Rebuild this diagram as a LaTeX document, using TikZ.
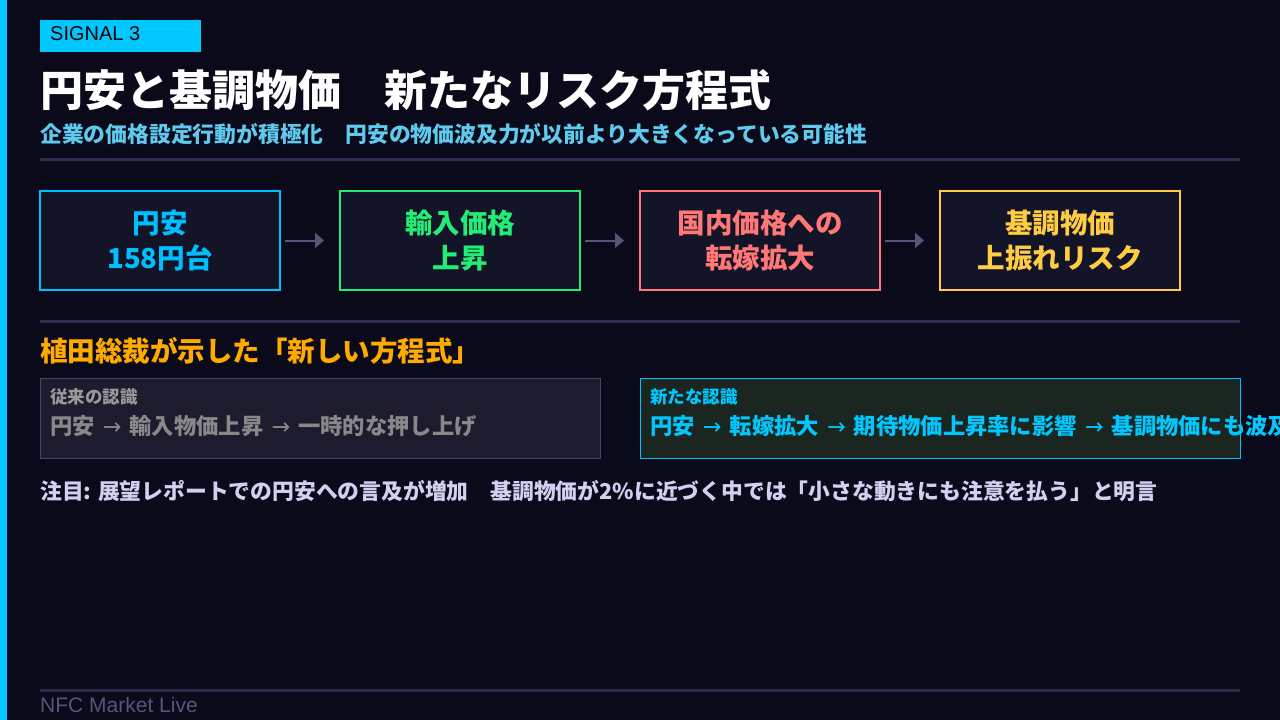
\documentclass[tikz,border=0pt]{standalone}
\usepackage{fontspec}
\setmainfont{Noto Sans CJK JP}
\newfontfamily\latinfont{Liberation Sans}
\newfontfamily\arrowfont{DejaVu Sans}
\newcommand{\rarr}{\hspace{3pt}{\arrowfont\mdseries →}\hspace{3pt}}
\usetikzlibrary{arrows.meta}
\definecolor{bg}{HTML}{0A0A1A}
\definecolor{cyanbar}{HTML}{00C8FF}
\definecolor{subt}{HTML}{5FC9EE}
\definecolor{rule}{HTML}{2E2E50}
\definecolor{boxfill}{HTML}{141428}
\definecolor{cA}{HTML}{00BFFF}
\definecolor{cB}{HTML}{22EE77}
\definecolor{cC}{HTML}{FF7777}
\definecolor{cD}{HTML}{FFCC44}
\definecolor{arr}{HTML}{555577}
\definecolor{orange}{HTML}{FFAA00}
\definecolor{oldfill}{HTML}{1C1C2E}
\definecolor{oldborder}{HTML}{44446A}
\definecolor{oldlabel}{HTML}{999999}
\definecolor{oldtext}{HTML}{888888}
\definecolor{newfill}{HTML}{1B2620}
\definecolor{notetext}{HTML}{D0D0F0}
\definecolor{foot}{HTML}{555577}
\definecolor{footrule}{HTML}{2A2A48}
\tikzset{
  txt/.style={anchor=west, inner sep=0pt, font=\bfseries},
  flowbox/.style={draw=#1, line width=2pt, fill=boxfill, minimum width=240pt, minimum height=99pt, inner sep=0pt, align=center, text=#1, font=\fontsize{27.5}{35}\selectfont\bfseries},
  flowarrow/.style={draw=arr, line width=2pt, -{Triangle[length=9pt,width=15pt]}, shorten <=4pt, shorten >=15pt},
  hrule/.style={draw=rule, line width=3pt}
}
\begin{document}
\begin{tikzpicture}[x=1pt, y=-1pt]
\useasboundingbox (0,0) rectangle (1280,720);
\fill[bg] (0,0) rectangle (1280,720);
\fill[cyanbar] (0,0) rectangle (7,720);
% tag
\fill[cyanbar] (40,20) rectangle (201,52);
\node[txt, font=\latinfont\fontsize{20}{20}\selectfont, text=black] (tag) at (50,34) {SIGNAL 3};
% title
\node[txt, text=white, font=\fontsize{43}{43}\selectfont\bfseries] (title) at (40,90) {円安と基調物価　新たなリスク方程式};
\node[txt, text=subt, font=\fontsize{21.8}{22}\selectfont\bfseries] (sub) at (40,134) {企業の価格設定行動が積極化　円安の物価波及力が以前より大きくなっている可能性};
\coordinate (r1a) at (40,159); \coordinate (r1b) at (1240,159);
\draw[hrule] (r1a) -- (r1b);
% flow boxes
\node[flowbox=cA] (b1) at (160,240.5) {円安\\158円台};
\node[flowbox=cB] (b2) at (460,240.5) {輸入価格\\上昇};
\node[flowbox=cC] (b3) at (760,240.5) {国内価格への\\転嫁拡大};
\node[flowbox=cD] (b4) at (1060,240.5) {基調物価\\上振れリスク};
\draw[flowarrow] (b1.east) -- (b2.west);
\draw[flowarrow] (b2.east) -- (b3.west);
\draw[flowarrow] (b3.east) -- (b4.west);
\coordinate (r2a) at (40,321); \coordinate (r2b) at (1240,321);
\draw[hrule] (r2a) -- (r2b);
% heading
\node[txt, text=orange, font=\fontsize{27.5}{28}\selectfont\bfseries] (head) at (40,351) {植田総裁が示した「新しい方程式」};
% old recognition
\draw[draw=oldborder, fill=oldfill, line width=1pt] (40.5,378.5) rectangle (600.5,458.5);
\node[txt, text=oldlabel, font=\fontsize{17.5}{18}\selectfont\bfseries] (oldl) at (50,397) {従来の認識};
\node[txt, text=oldtext, font=\fontsize{22.3}{23}\selectfont\bfseries] (oldt) at (50,426) {円安 \rarr{} 輸入物価上昇 \rarr{} 一時的な押し上げ};
% new recognition
\draw[draw=cA, fill=newfill, line width=1pt] (640.5,378.5) rectangle (1240.5,458.5);
\node[txt, text=cyanbar, font=\fontsize{17.5}{18}\selectfont\bfseries] (newl) at (650,397) {新たな認識};
\node[txt, text=cyanbar, font=\fontsize{22.3}{23}\selectfont\bfseries] (newt) at (650,426) {円安 \rarr{} 転嫁拡大 \rarr{} 期待物価上昇率に影響 \rarr{} 基調物価にも波及};
% note
\node[txt, text=notetext, font=\fontsize{21.8}{22}\selectfont\bfseries] (note) at (40,491) {注目: 展望レポートでの円安への言及が増加　基調物価が2\%に近づく中では「小さな動きにも注意を払う」と明言};
% footer
\coordinate (r3a) at (40,690); \coordinate (r3b) at (1240,690);
\draw[draw=footrule, line width=3pt] (r3a) -- (r3b);
\node[txt, text=foot, font=\latinfont\fontsize{21}{21}\selectfont] (footer) at (40,705) {NFC Market Live};
\end{tikzpicture}
\end{document}
